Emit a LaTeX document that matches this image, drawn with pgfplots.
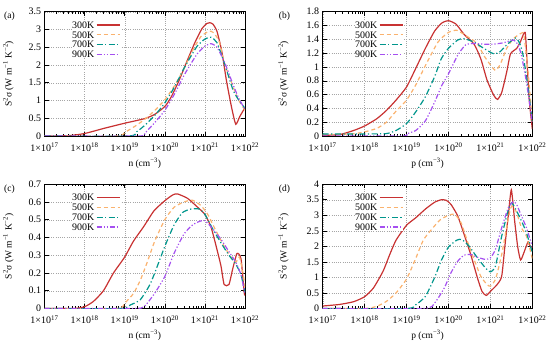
\documentclass[border=0pt]{standalone}
\usepackage{fontspec}
\setmainfont{Liberation Serif}
\usepackage{pgfplots}
\pgfplotsset{compat=1.18}

\definecolor{c300}{RGB}{200,50,50}
\definecolor{c500}{RGB}{250,178,110}
\definecolor{c700}{RGB}{0,150,140}
\definecolor{c900}{RGB}{165,80,240}

\tikzset{
  s300/.style={c300, line width=1.2bp, smooth, tension=0.35},
  s500/.style={c500, line width=1.2bp, dash pattern=on 4bp off 3bp, smooth, tension=0.35},
  s700/.style={c700, line width=1.2bp, dash pattern=on 6bp off 2.5bp on 1.2bp off 2.5bp, smooth, tension=0.35},
  s900/.style={c900, line width=1.2bp, dash pattern=on 5bp off 2bp on 1.2bp off 2bp on 1.2bp off 2bp, smooth, tension=0.35},
}

\pgfplotsset{
  legend image code/.code={\draw[#1] (0bp,0bp) -- (23bp,0bp);},
  every axis/.append style={
    scale only axis, height=124.3bp,
    xmode=log, xmin=1e17, xmax=1e22, ymin=0,
    xtick={1e17,1e18,1e19,1e20,1e21,1e22},
    xticklabels={1×10\textsuperscript{17},1×10\textsuperscript{18},1×10\textsuperscript{19},1×10\textsuperscript{20},1×10\textsuperscript{21},1×10\textsuperscript{22}},
    grid=major,
    major grid style={gray!70, line width=0.4pt, dash pattern=on 0.6bp off 1.6bp},
    tick align=inside,
    major tick length=4bp, minor tick length=2.2bp,
    tick style={black, line width=0.5pt},
    axis line style={black, line width=0.6pt},
    ticklabel style={font=\fontsize{10}{11}\selectfont},
    xticklabel style={yshift=-3.5bp},
    label style={font=\fontsize{9.5}{10}\selectfont},
    yticklabel style={/pgf/number format/fixed, /pgf/number format/assume math mode=true},
    ylabel={S\textsuperscript{2}σ (W m\textsuperscript{−1} K\textsuperscript{−2})},
    xlabel style={at={(axis description cs:0.5,-0.217)}, anchor=center},
    legend plot pos=right,
    legend cell align=right,
    legend style={draw=none, fill=white, font=\fontsize{10}{11}\selectfont, inner sep=0bp, row sep=2.2bp, column sep=1.2bp, nodes={inner sep=0.5bp, text depth=0bp}, anchor=north east},
  },
}

\begin{document}
\begin{tikzpicture}
\useasboundingbox (0,0) rectangle (550bp,346bp);

% ---------------- (a)
\begin{axis}[at={(44.5bp,210bp)}, anchor=south west, width=200.5bp,
  ymax=3.5, ytick distance=0.5,
  xlabel={n (cm\textsuperscript{−3})},
  ylabel style={at={(axis description cs:-0.18,0.5)}, anchor=center},
  legend style={at={(axis description cs:0.378,0.925)}}]
\addplot[s300] coordinates {(1e17,0) (3.981e17,0.01) (1e18,0.07) (3.162e18,0.22) (1e19,0.36) (3.162e19,0.49) (5.623e19,0.61) (1e20,0.83) (1.413e20,1.08) (2.239e20,1.55) (3.548e20,2.1) (5.623e20,2.63) (8.511e20,3.03) (1.122e21,3.17) (1.318e21,3.19) (1.585e21,3.15) (1.995e21,2.95) (2.630e21,2.39) (3.467e21,1.54) (4.677e21,0.78) (5.888e21,0.33) (7.413e21,0.55) (1e22,0.8)};
\addplot[s500] coordinates {(1e17,0) (6.310e18,0) (1e19,0.1) (1.778e19,0.27) (3.162e19,0.47) (5.623e19,0.72) (1e20,1.02) (1.778e20,1.43) (3.162e20,1.95) (5.012e20,2.42) (7.943e20,2.8) (1.259e21,2.95) (1.585e21,2.92) (2.239e21,2.68) (3.162e21,2.0) (4.467e21,1.55) (6.310e21,1.1) (7.943e21,0.9) (1e22,0.72)};
\addplot[s700] coordinates {(1e17,0) (1.259e19,0) (1.995e19,0.12) (3.162e19,0.3) (5.623e19,0.58) (1e20,0.93) (1.778e20,1.4) (3.162e20,1.95) (6.310e20,2.52) (1e21,2.73) (1.413e21,2.78) (1.995e21,2.63) (3.162e21,2.0) (5.012e21,1.3) (7.079e21,1.0) (1e22,0.78)};
\addplot[s900] coordinates {(1e17,0) (2.239e19,0) (3.162e19,0.08) (5.623e19,0.38) (1e20,0.72) (1.778e20,1.2) (3.162e20,1.75) (6.310e20,2.3) (1e21,2.53) (1.413e21,2.6) (1.995e21,2.5) (3.162e21,2.05) (5.012e21,1.45) (7.079e21,1.05) (1e22,0.75)};
\legend{300K,500K,700K,900K}
\end{axis}

% ---------------- (b)
\begin{axis}[at={(322.7bp,210bp)}, anchor=south west, width=209.6bp,
  ymax=1.8, ytick distance=0.2,
  xlabel={p (cm\textsuperscript{−3})},
  ylabel style={at={(axis description cs:-0.187,0.5)}, anchor=center},
  legend style={at={(axis description cs:0.385,0.925)}}]
\addplot[s300] coordinates {(1e17,0.01) (2.512e17,0.02) (5.495e17,0.08) (1e18,0.145) (1.950e18,0.25) (3.311e18,0.37) (5.623e18,0.52) (1e19,0.71) (1.660e19,0.98) (2.818e19,1.27) (4.677e19,1.52) (7.079e19,1.64) (1e20,1.67) (1.514e20,1.62) (2.371e20,1.47) (4.074e20,1.33) (5.888e20,1.12) (8.318e20,0.81) (1.202e21,0.59) (1.479e21,0.53) (1.862e21,0.63) (2.455e21,0.93) (3.020e21,1.19) (4.266e21,1.27) (5.248e21,1.37) (6.761e21,1.5) (7.586e21,1.0) (8.511e21,0.5) (1e22,0.1)};
\addplot[s500] coordinates {(1e17,0.02) (5.012e17,0.03) (1e18,0.06) (1.950e18,0.11) (3.311e18,0.2) (5.623e18,0.36) (1e19,0.52) (1.660e19,0.74) (2.818e19,1.02) (5.623e19,1.36) (1e20,1.5) (1.585e20,1.53) (2.818e20,1.44) (4.898e20,1.34) (6.918e20,1.17) (1e21,1.03) (1.318e21,0.95) (1.698e21,1.03) (2.455e21,1.27) (3.548e21,1.41) (5.495e21,1.49) (6.310e21,1.46) (7.943e21,0.93) (1e22,0.2)};
\addplot[s700] coordinates {(1e17,0.03) (1e18,0.03) (3.311e18,0.035) (5.623e18,0.08) (1e19,0.18) (1.660e19,0.35) (2.818e19,0.57) (4.677e19,0.86) (6.761e19,1.12) (1e20,1.27) (1.660e20,1.39) (2.344e20,1.41) (4.074e20,1.36) (6.918e20,1.27) (1.202e21,1.19) (1.698e21,1.22) (2.455e21,1.32) (3.981e21,1.42) (5.012e21,1.34) (6.026e21,1.17) (7.943e21,0.69) (1e22,0.2)};
\addplot[s900] coordinates {(1e17,0) (7.943e18,0) (1e19,0.03) (1.660e19,0.08) (2.818e19,0.22) (4.677e19,0.49) (6.761e19,0.72) (1e20,0.9) (1.660e20,1.17) (2.570e20,1.32) (4.074e20,1.34) (6.918e20,1.33) (1.202e21,1.33) (2.042e21,1.35) (3.548e21,1.39) (4.467e21,1.33) (5.495e21,1.17) (7.244e21,0.78) (1e22,0.2)};
\legend{300K,500K,700K,900K}
\end{axis}

% ---------------- (c)
\begin{axis}[at={(44.5bp,37.5bp)}, anchor=south west, width=200.5bp,
  ymax=0.7, ytick distance=0.1,
  xlabel={n (cm\textsuperscript{−3})},
  ylabel style={at={(axis description cs:-0.18,0.5)}, anchor=center},
  legend style={at={(axis description cs:0.378,0.925)}}]
\addplot[s300] coordinates {(1e17,0) (5.370e17,0) (1e18,0.01) (1.660e18,0.04) (2.951e18,0.1) (5.248e18,0.2) (1e19,0.29) (1.660e19,0.38) (2.951e19,0.46) (5.370e19,0.55) (1e20,0.607) (1.585e20,0.64) (2.089e20,0.645) (3.715e20,0.62) (6.607e20,0.57) (1e21,0.53) (1.413e21,0.46) (1.862e21,0.36) (2.512e21,0.24) (3.020e21,0.135) (3.981e21,0.135) (4.898e21,0.22) (6.310e21,0.31) (7.943e21,0.28) (9.550e21,0.09) (1e22,0.08)};
\addplot[s500] coordinates {(1e17,0) (6.310e18,0) (1e19,0.03) (1.660e19,0.085) (2.455e19,0.16) (3.631e19,0.26) (5.623e19,0.38) (1e20,0.5) (1.698e20,0.57) (3.020e20,0.6) (4.898e20,0.61) (7.943e20,0.58) (1.175e21,0.53) (1.862e21,0.44) (3.020e21,0.35) (4.467e21,0.29) (5.888e21,0.26) (7.244e21,0.29) (8.913e21,0.2) (1e22,0.12)};
\addplot[s700] coordinates {(1e17,0) (7.943e18,0) (1.380e19,0.02) (2.455e19,0.05) (4.365e19,0.14) (7.943e19,0.29) (1e20,0.35) (1.698e20,0.47) (2.754e20,0.54) (4.467e20,0.56) (7.244e20,0.56) (1e21,0.53) (1.549e21,0.45) (2.512e21,0.37) (3.981e21,0.3) (5.888e21,0.25) (7.943e21,0.19) (1e22,0.09)};
\addplot[s900] coordinates {(1e17,0) (1.585e19,0) (3.020e19,0.01) (5.370e19,0.08) (1e20,0.18) (1.698e20,0.31) (3.020e20,0.42) (4.898e20,0.47) (7.244e20,0.49) (1e21,0.495) (1.549e21,0.45) (2.512e21,0.39) (3.981e21,0.32) (5.888e21,0.26) (7.943e21,0.19) (1e22,0.08)};
\legend{300K,500K,700K,900K}
\end{axis}

% ---------------- (d)
\begin{axis}[at={(322.7bp,37.5bp)}, anchor=south west, width=209.6bp,
  ymax=4, ytick distance=0.5,
  xlabel={p (cm\textsuperscript{−3})},
  ylabel style={at={(axis description cs:-0.187,0.5)}, anchor=center},
  legend style={at={(axis description cs:0.385,0.925)}}]
\addplot[s300] coordinates {(1e17,0.08) (2.512e17,0.13) (5.495e17,0.22) (1e18,0.38) (1.622e18,0.66) (2.754e18,1.2) (3.981e18,1.74) (5.623e18,2.2) (1e19,2.68) (1.660e19,2.92) (2.818e19,3.2) (4.677e19,3.42) (6.761e19,3.5) (8.913e19,3.48) (1.148e20,3.35) (1.660e20,2.98) (2.371e20,2.38) (3.388e20,1.74) (4.898e20,0.99) (6.310e20,0.55) (7.943e20,0.42) (1e21,0.55) (1.445e21,0.77) (1.862e21,1.04) (2.239e21,2.06) (2.692e21,3.03) (3.162e21,3.82) (3.802e21,2.8) (4.467e21,2.0) (5.248e21,1.56) (6.310e21,1.8) (7.943e21,2.15) (8.913e21,2.0) (1e22,1.97)};
\addplot[s500] coordinates {(1e17,0) (1e18,0) (1.950e18,0.07) (3.311e18,0.23) (5.623e18,0.5) (1e19,0.95) (1.585e19,1.55) (2.512e19,2.2) (3.981e19,2.55) (6.310e19,2.85) (1e20,3.0) (1.413e20,3.03) (1.995e20,2.76) (2.818e20,2.17) (4.074e20,1.58) (5.888e20,1.04) (8.318e20,0.77) (1e21,0.72) (1.318e21,0.93) (1.862e21,1.74) (2.692e21,2.92) (3.236e21,3.3) (4.217e21,3.09) (5.495e21,2.6) (7.244e21,2.33) (1e22,1.6)};
\addplot[s700] coordinates {(1e17,0) (1e19,0) (1.660e19,0.12) (2.818e19,0.39) (4.677e19,1.0) (6.761e19,1.55) (1e20,1.98) (1.585e20,2.2) (2.089e20,2.22) (3.090e20,2.01) (4.898e20,1.63) (7.586e20,1.31) (1e21,1.18) (1.318e21,1.36) (1.862e21,2.33) (2.692e21,3.19) (3.236e21,3.4) (4.217e21,3.14) (5.495e21,2.82) (7.244e21,2.44) (1e22,1.8)};
\addplot[s900] coordinates {(1e17,0) (2.512e19,0) (4.677e19,0.18) (7.943e19,0.66) (1.148e20,1.15) (1.660e20,1.52) (2.371e20,1.72) (3.388e20,1.74) (4.898e20,1.65) (7.586e20,1.58) (1e21,1.63) (1.318e21,1.9) (1.862e21,2.6) (2.692e21,3.25) (3.548e21,3.44) (4.217e21,3.35) (5.495e21,2.98) (7.244e21,2.6) (1e22,2.0)};
\legend{300K,500K,700K,900K}
\end{axis}

\node[font=\fontsize{9.5}{10}\selectfont] at (9.5bp,330bp) {(a)};
\node[font=\fontsize{9.5}{10}\selectfont] at (284.5bp,330bp) {(b)};
\node[font=\fontsize{9.5}{10}\selectfont] at (9.5bp,157bp) {(c)};
\node[font=\fontsize{9.5}{10}\selectfont] at (284.5bp,157bp) {(d)};
\end{tikzpicture}
\end{document}
